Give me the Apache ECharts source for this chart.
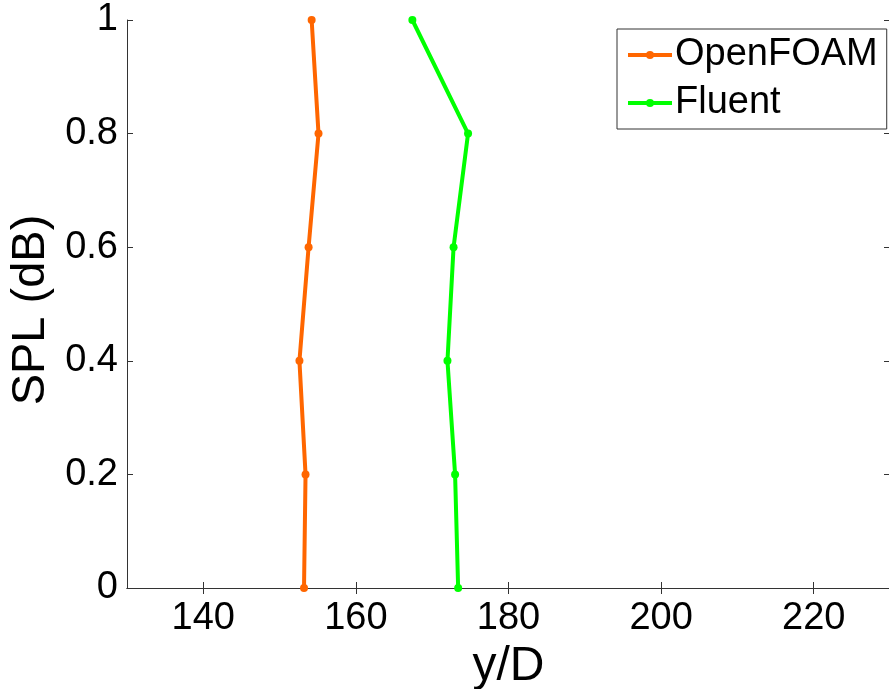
<!DOCTYPE html>
<html>
<head>
<meta charset="utf-8">
<script src="https://cdn.jsdelivr.net/npm/echarts@6/dist/echarts.min.js"></script>
<style>
  html, body { margin: 0; padding: 0; background: #fff; }
  #chart { width: 889px; height: 689px; }
</style>
</head>
<body>
<div id="chart"></div>
<script>
// SPL levels (vertical axis)
const splLevels = [0, 0.2, 0.4, 0.6, 0.8, 1.0];
// y/D position for each SPL level
const openFoamYD = [153.2, 153.4, 152.6, 153.8, 155.1, 154.2];
const fluentYD = [173.4, 173.0, 172.0, 172.8, 174.7, 167.4];
// Tick labels on the horizontal axis
const xTicks = [140, 160, 180, 200, 220];

const FONT = '"Liberation Sans", Arial, sans-serif';
const AXIS_COLOR = '#333';

function pairs(xs) {
  return xs.map((x, i) => [x, splLevels[i]]);
}

const chart = echarts.init(document.getElementById('chart'), null, { renderer: 'canvas' });

const tickStyle = { show: true, inside: true, length: 6, lineStyle: { color: AXIS_COLOR, width: 1 } };

chart.setOption({
  animation: false,
  backgroundColor: '#fff',
  grid: { left: 127, top: 20, width: 763, height: 568, containLabel: false, outerBoundsMode: 'none' },
  legend: {
    orient: 'vertical',
    left: 617,
    top: 29,
    backgroundColor: '#fff',
    borderColor: AXIS_COLOR,
    borderWidth: 1,
    borderRadius: 0,
    padding: [7, 9, 7, 9],
    itemWidth: 44,
    itemHeight: 10,
    itemGap: 10,
    lineStyle: { width: 4 },
    textStyle: { fontFamily: FONT, fontSize: 38, color: '#000', padding: [0, 0, 0, -2] },
    data: ['OpenFOAM', 'Fluent']
  },
  xAxis: [
    {
      type: 'value', min: 130, max: 230,
      name: 'y/D', nameLocation: 'middle', nameGap: 51,
      nameTextStyle: { fontFamily: FONT, fontSize: 48, color: '#000' },
      axisLine: { show: true, lineStyle: { color: AXIS_COLOR, width: 1 } },
      axisTick: Object.assign({ customValues: xTicks }, tickStyle),
      axisLabel: { customValues: xTicks, fontFamily: FONT, fontSize: 38, color: '#000', margin: 12 },
      splitLine: { show: false }
    },
    {
      type: 'value', min: 130, max: 230, position: 'top',
      axisLine: { show: true, lineStyle: { color: AXIS_COLOR, width: 1 } },
      axisTick: Object.assign({ customValues: xTicks }, tickStyle),
      axisLabel: { show: false },
      splitLine: { show: false }
    }
  ],
  yAxis: [
    {
      type: 'value', min: 0, max: 1, interval: 0.2,
      name: 'SPL (dB)', nameLocation: 'middle', nameGap: 70, nameRotate: 90,
      nameTextStyle: { fontFamily: FONT, fontSize: 47, color: '#000', padding: [0, 12, 0, 0] },
      axisLine: { show: true, lineStyle: { color: AXIS_COLOR, width: 1 } },
      axisTick: tickStyle,
      axisLabel: { fontFamily: FONT, fontSize: 38, color: '#000', margin: 9 },
      splitLine: { show: false }
    },
    {
      type: 'value', min: 0, max: 1, interval: 0.2, position: 'right',
      axisLine: { show: true, lineStyle: { color: AXIS_COLOR, width: 1 } },
      axisTick: tickStyle,
      axisLabel: { show: false },
      splitLine: { show: false }
    }
  ],
  series: [
    {
      name: 'OpenFOAM', type: 'line', data: pairs(openFoamYD),
      color: '#ff6600',
      lineStyle: { width: 4, color: '#ff6600' },
      itemStyle: { color: '#ff6600' },
      symbol: 'circle', symbolSize: 8, showSymbol: true
    },
    {
      name: 'Fluent', type: 'line', data: pairs(fluentYD),
      color: '#00ff00',
      lineStyle: { width: 4, color: '#00ff00' },
      itemStyle: { color: '#00ff00' },
      symbol: 'circle', symbolSize: 8, showSymbol: true
    }
  ]
});
</script>
</body>
</html>
